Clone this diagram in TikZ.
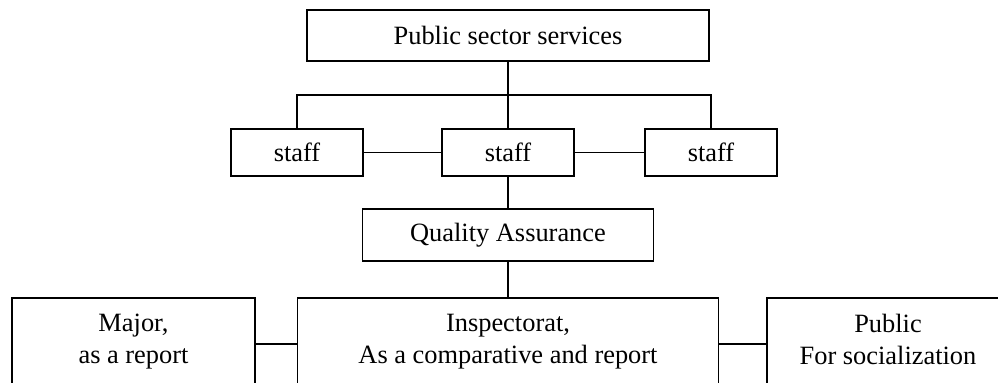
\documentclass[tikz,border=0pt]{standalone}
\usepackage{fontspec}
\setmainfont{Liberation Serif}
\usepackage{tikz}
\usetikzlibrary{positioning}

\tikzset{
  box/.style={draw, line width=0.85pt, inner sep=0pt, align=center,
              font=\fontsize{13.2pt}{16pt}\selectfont},
  staffbox/.style={box, minimum width=66pt, minimum height=23.5pt},
  lowbox/.style={box, minimum height=46pt, execute at end node=\strut},
  link/.style={line width=0.85pt}
}

\begin{document}
\begin{tikzpicture}[x=0.5pt, y=-0.5pt]
\clip (0,0) rectangle (998,383);
% top level
\node[box, minimum width=201pt, minimum height=25.5pt] (pss) at (508,35.5) {Public sector services};
% staff row
\node[staffbox] (staffL) at (297,152.5) {staff};
\node[staffbox] (staffM) at (508,152.5) {staff};
\node[staffbox] (staffR) at (711,152.5) {staff};
% quality assurance
\node[box, minimum width=145.5pt, minimum height=26pt] (qa) at (508,235) {Quality Assurance};
% bottom row
\node[lowbox, minimum width=121.5pt] (major) at (133.5,344) {Major,\\ as a report};
\node[lowbox, minimum width=210.5pt] (insp) at (508,344) {Inspectorat,\\ As a comparative and report};
\node[lowbox, minimum width=121pt] (public) at (888,344) {Public\\ For socialization};

\draw[link] (pss.south) -- (staffM.north);
\draw[link] (staffL.north) -- ++(0,-33) -| (staffR.north);
\draw[link] (staffL.east) -- (staffM.west);
\draw[link] (staffM.east) -- (staffR.west);
\draw[link] (staffM.south) -- (qa.north);
\draw[link] (qa.south) -- (insp.north);
\draw[link] (major.east) -- (insp.west);
\draw[link] (insp.east) -- (public.west);
\end{tikzpicture}
\end{document}
